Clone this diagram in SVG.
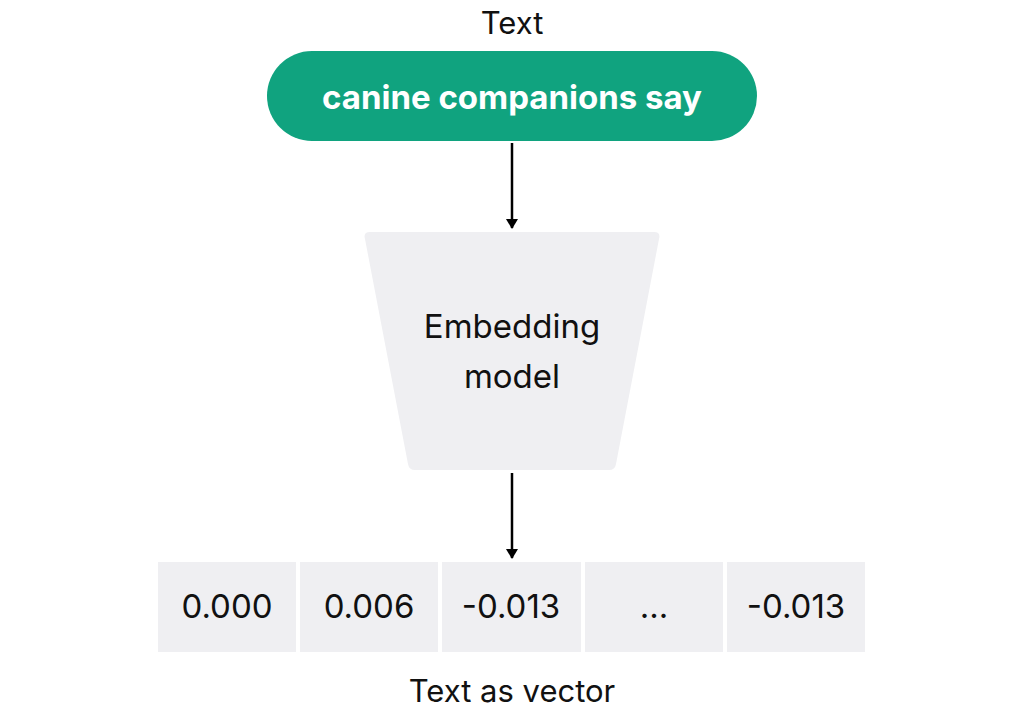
<svg xmlns="http://www.w3.org/2000/svg" width="1024" height="715" viewBox="0 0 1024 715">
<style>
text{font-family:Inter,"Liberation Sans",sans-serif;fill:#111;text-anchor:middle}
.lbl{font-size:31px}
.num{font-size:33px}
.cell{fill:#efeff2}
.conn{stroke:#000;stroke-width:2.5;fill:none}
</style>
<defs><marker id="ah" markerWidth="10" markerHeight="12" refX="9" refY="6" orient="auto" markerUnits="userSpaceOnUse"><path d="M0,0 L10,6 L0,12 Z" fill="#000"/></marker></defs>
<rect width="1024" height="715" fill="#fff"/>
<g id="title"><text class="lbl" x="512" y="34">Text</text></g>
<g id="input"><rect x="267" y="51" width="490" height="90" rx="45" fill="#10a37f"/><text x="512" y="109" style="font-size:33px;font-weight:700;fill:#fff">canine companions say</text></g>
<g id="model"><path d="M370,232 L654,232 Q661,232 659,239 L616,464 Q615,470 609,470 L415,470 Q409,470 408,464 L365,239 Q363,232 370,232 Z" fill="#efeff2"/><text class="num" x="512" y="338">Embedding</text><text class="num" x="512" y="388">model</text></g>
<g id="vector">
<rect class="cell" x="158" y="562" width="138" height="90"/><text class="num" x="227" y="618">0.000</text>
<rect class="cell" x="300" y="562" width="138" height="90"/><text class="num" x="369" y="618">0.006</text>
<rect class="cell" x="442" y="562" width="139" height="90"/><text class="num" x="511" y="618">-0.013</text>
<rect class="cell" x="585" y="562" width="138" height="90"/><text class="num" x="654" y="618">...</text>
<rect class="cell" x="727" y="562" width="138" height="90"/><text class="num" x="796" y="618">-0.013</text>
</g>
<g id="caption"><text class="lbl" x="512" y="702">Text as vector</text></g>
<g id="connectors"><line class="conn" x1="512" y1="143" x2="512" y2="228" marker-end="url(#ah)"/><line class="conn" x1="512" y1="473" x2="512" y2="558" marker-end="url(#ah)"/></g>
</svg>
